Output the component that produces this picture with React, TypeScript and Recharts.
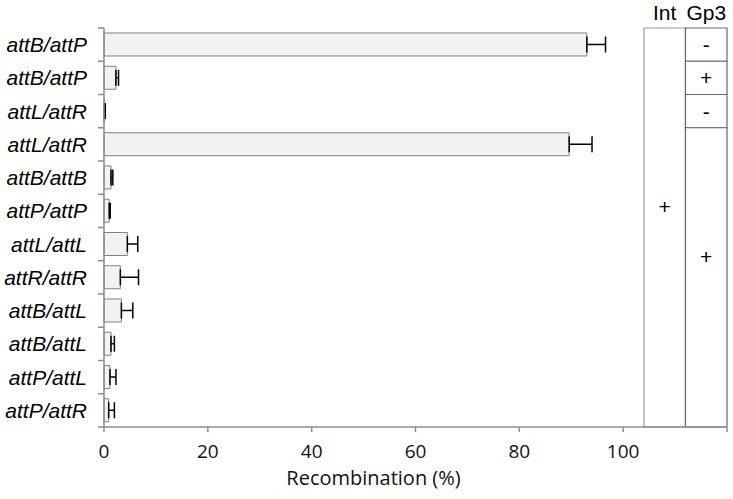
import { Bar, BarChart, ErrorBar, Label, ReferenceArea, XAxis, YAxis } from "recharts";

const ROW_IDS = ["r1", "r2", "r3", "r4", "r5", "r6", "r7", "r8", "r9", "r10", "r11", "r12"];
const PAIRS = [
  "attB/attP", "attB/attP", "attL/attR", "attL/attR", "attB/attB", "attP/attP",
  "attL/attL", "attR/attR", "attB/attL", "attB/attL", "attP/attL", "attP/attR",
];
const RECOMB = [93.0, 2.3, 0.1, 89.6, 1.35, 1.0, 4.5, 3.15, 3.35, 1.35, 1.15, 0.9];
const RECOMB_ERR = [3.6, 0.5, 0.15, 4.4, 0.35, 0.2, 2.0, 3.5, 2.2, 0.65, 1.15, 1.1];
const X_TICKS = [0, 20, 40, 60, 80, 100, 120];

// table columns drawn past the 100% mark
const INT_COL = [104, 112];
const GP3_COL = [112, 120];
const GP3_CELLS = [
  { from: "r1", to: "r1", sign: "-" },
  { from: "r2", to: "r2", sign: "+" },
  { from: "r3", to: "r3", sign: "-" },
  { from: "r4", to: "r12", sign: "+" },
];

const data = ROW_IDS.map((id, i) => ({
  id,
  pair: PAIRS[i],
  value: RECOMB[i],
  err: [0, RECOMB_ERR[i]],
}));

const AXIS = "#8c8c8c";
const SIGN_STYLE = { fontFamily: "Liberation Sans, Arial, sans-serif", fontSize: 21, fill: "#000" };
const TICK_SIZE = 6;
const TICK_MARGIN = 11;

// excel style: tick marks between categories, not on them
function PairTick(props: any) {
  const { x, y, payload, index, visibleTicksCount } = props;
  const half = payload.offset || 0;
  const x1 = x + TICK_MARGIN;
  const x2 = x + TICK_MARGIN + TICK_SIZE;
  const last = index === visibleTicksCount - 1;
  return (
    <g>
      <line x1={x1} x2={x2} y1={y - half} y2={y - half} stroke={AXIS} strokeWidth={1.5} />
      {last && <line x1={x1} x2={x2} y1={y + half} y2={y + half} stroke={AXIS} strokeWidth={1.5} />}
      <text
        x={x}
        y={y}
        dy="0.355em"
        textAnchor="end"
        fill="#000"
        fontSize={21}
        fontStyle="italic"
        fontFamily="Liberation Sans, Arial, sans-serif"
      >
        {PAIRS[ROW_IDS.indexOf(payload.value)]}
      </text>
    </g>
  );
}

export default function App() {
  return (
    <div style={{ position: "absolute", left: 0, top: 0, background: "#fff" }}>
      <BarChart
        width={733}
        height={499}
        data={data}
        layout="vertical"
        margin={{ top: 28, right: 6, bottom: 0, left: 0 }}
        barCategoryGap="15%"
      >
        <XAxis
          type="number"
          xAxisId="x"
          domain={[0, 120]}
          ticks={X_TICKS}
          tickFormatter={(v) => (v > 100 ? "" : String(v))}
          height={72}
          tickSize={5}
          tickMargin={13}
          axisLine={{ stroke: AXIS, strokeWidth: 1.5 }}
          tickLine={{ stroke: AXIS, strokeWidth: 1.5 }}
          tick={{ fill: "#111", fontSize: 19, fontFamily: "Open Sans, sans-serif" }}
        >
          <Label
            value="Recombination (%)"
            position="insideBottom"
            offset={14}
            dx={-42}
            style={{ fontSize: 20, fontFamily: "Open Sans, sans-serif", fill: "#111" }}
          />
        </XAxis>
        <YAxis
          yAxisId="b"
          type="category"
          dataKey="id"
          width={104}
          axisLine={{ stroke: AXIS, strokeWidth: 1.5 }}
          tickLine={false}
          tickSize={TICK_SIZE}
          tickMargin={TICK_MARGIN}
          interval={0}
          tick={<PairTick />}
        />
        <Bar
          dataKey="value"
          xAxisId="x"
          yAxisId="b"
          fill="#f2f2f2"
          stroke="#808080"
          strokeWidth={1}
          isAnimationActive={false}
        >
          <ErrorBar dataKey="err" direction="x" width={8} stroke="#000" strokeWidth={1.5} />
        </Bar>

        <ReferenceArea
          xAxisId="x"
          yAxisId="b"
          x1={INT_COL[0]}
          x2={INT_COL[1]}
          fill="#fff"
          fillOpacity={1}
          stroke="#9a9a9a"
          strokeWidth={1.2}
          ifOverflow="visible"
        >
          <Label value="Int" position="top" offset={8} style={SIGN_STYLE} />
          <Label value="+" position="center" dy={-21} style={SIGN_STYLE} />
        </ReferenceArea>
        {GP3_CELLS.map((c, i) => (
          <ReferenceArea
            key={i}
            xAxisId="x"
            yAxisId="b"
            x1={GP3_COL[0]}
            x2={GP3_COL[1]}
            y1={c.from}
            y2={c.to}
            fill="#fff"
            fillOpacity={1}
            stroke="#6a6a6a"
            strokeWidth={1.2}
            ifOverflow="visible"
          >
            {i === 0 && <Label value="Gp3" position="top" offset={8} style={SIGN_STYLE} />}
            <Label value={c.sign} position="center" dy={i === 3 ? -21 : 0} style={SIGN_STYLE} />
          </ReferenceArea>
        ))}
      </BarChart>
    </div>
  );
}
